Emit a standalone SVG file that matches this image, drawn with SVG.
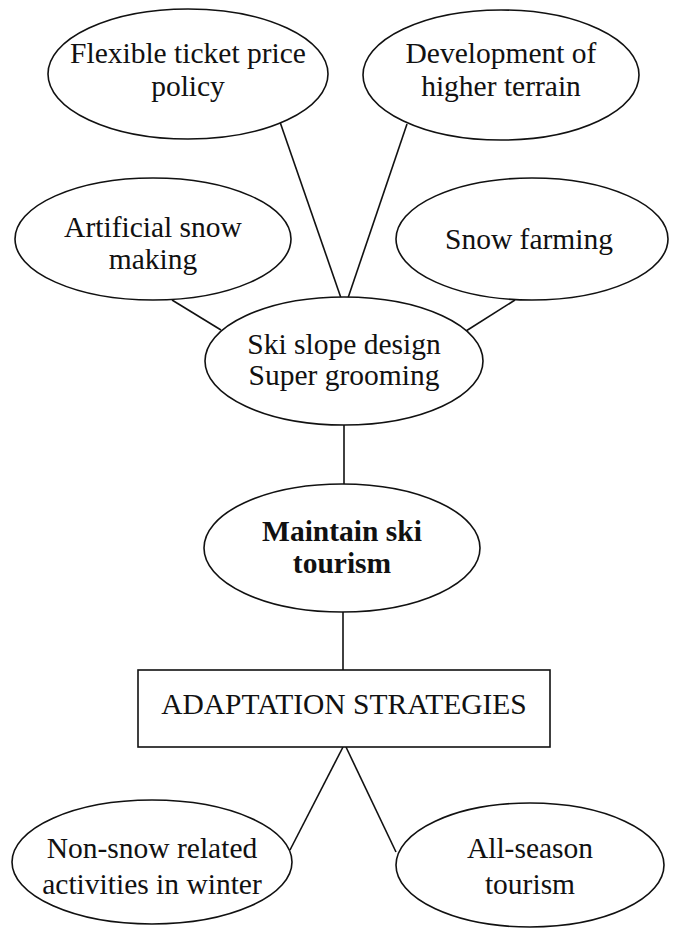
<svg xmlns="http://www.w3.org/2000/svg" width="673" height="931" viewBox="0 0 673 931">
<style>
.n{fill:#fff;stroke:#111;stroke-width:1.6}
.c line{stroke:#111;stroke-width:1.6}
text{font-family:"Liberation Serif","Times New Roman",serif;font-size:29.5px;fill:#111;text-anchor:middle}
.b{font-weight:bold}
</style>
<rect width="673" height="931" fill="#fff"/>
<g class="c" id="connectors">
<line x1="280" y1="122" x2="341" y2="298"/>
<line x1="407" y1="124" x2="348" y2="298"/>
<line x1="172" y1="300" x2="221" y2="330"/>
<line x1="515" y1="300" x2="466" y2="331"/>
<line x1="344" y1="425" x2="344" y2="484"/>
<line x1="343" y1="612" x2="343" y2="670"/>
<line x1="343" y1="747" x2="290" y2="850"/>
<line x1="346" y1="747" x2="396" y2="852"/>
</g>
<g id="flexible"><ellipse class="n" cx="188" cy="74" rx="140" ry="65"/><text x="188" y="63">Flexible ticket price</text><text x="188" y="96">policy</text></g>
<g id="development"><ellipse class="n" cx="501" cy="75" rx="138" ry="65"/><text x="501" y="63">Development of</text><text x="501" y="96">higher terrain</text></g>
<g id="artificial"><ellipse class="n" cx="153" cy="239" rx="138" ry="61"/><text x="153" y="237">Artificial snow</text><text x="153" y="269">making</text></g>
<g id="farming"><ellipse class="n" cx="532" cy="239" rx="136" ry="61"/><text x="529" y="249">Snow farming</text></g>
<g id="slope"><ellipse class="n" cx="344" cy="361" rx="139" ry="64"/><text x="344" y="354">Ski slope design</text><text x="344" y="385">Super grooming</text></g>
<g id="maintain"><ellipse class="n" cx="342" cy="548" rx="138" ry="64"/><text class="b" x="342" y="541">Maintain ski</text><text class="b" x="342" y="573">tourism</text></g>
<g id="adaptation"><rect class="n" x="138" y="670" width="412" height="77"/><text x="344" y="714">ADAPTATION STRATEGIES</text></g>
<g id="nonsnow"><ellipse class="n" cx="152" cy="862" rx="140" ry="62"/><text x="152" y="858">Non-snow related</text><text x="152" y="894">activities in winter</text></g>
<g id="allseason"><ellipse class="n" cx="530" cy="865" rx="134" ry="62"/><text x="530" y="858">All-season</text><text x="530" y="894">tourism</text></g>
</svg>
